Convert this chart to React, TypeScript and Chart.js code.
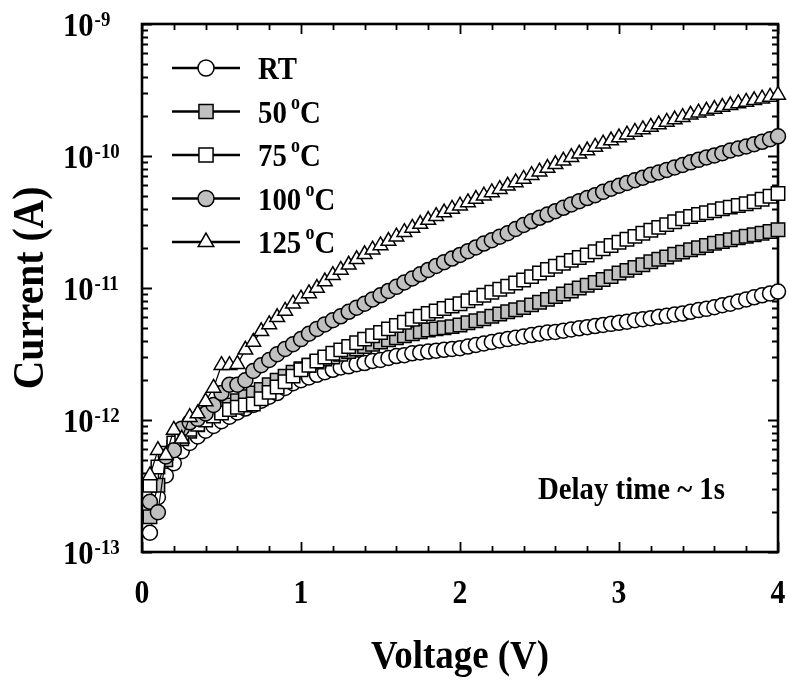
import React, { useEffect, useRef } from "react";
import { Chart, registerables } from "chart.js";

Chart.register(...registerables);

// ---------------- data ----------------
const voltage = [
  0.05, 0.1, 0.15, 0.2, 0.25, 0.3, 0.35, 0.4, 0.45, 0.5,
  0.55, 0.6, 0.65, 0.7, 0.75, 0.8, 0.85, 0.9, 0.95, 1.0,
  1.05, 1.1, 1.15, 1.2, 1.25, 1.3, 1.35, 1.4, 1.45, 1.5,
  1.55, 1.6, 1.65, 1.7, 1.75, 1.8, 1.85, 1.9, 1.95, 2.0,
  2.05, 2.1, 2.15, 2.2, 2.25, 2.3, 2.35, 2.4, 2.45, 2.5,
  2.55, 2.6, 2.65, 2.7, 2.75, 2.8, 2.85, 2.9, 2.95, 3.0,
  3.05, 3.1, 3.15, 3.2, 3.25, 3.3, 3.35, 3.4, 3.45, 3.5,
  3.55, 3.6, 3.65, 3.7, 3.75, 3.8, 3.85, 3.9, 3.95, 4.0,
];

const currentRT = [
  1.4e-13, 2.6e-13, 3.8e-13, 4.7e-13, 5.8e-13, 6.7e-13, 7.5e-13, 8.3e-13, 9.0e-13, 9.8e-13,
  1.06e-12, 1.14e-12, 1.22e-12, 1.3e-12, 1.4e-12, 1.5e-12, 1.6e-12, 1.75e-12, 1.9e-12, 2.0e-12,
  2.1e-12, 2.2e-12, 2.3e-12, 2.4e-12, 2.5e-12, 2.55e-12, 2.65e-12, 2.7e-12, 2.8e-12, 2.85e-12,
  2.95e-12, 3.05e-12, 3.1e-12, 3.2e-12, 3.25e-12, 3.3e-12, 3.35e-12, 3.4e-12, 3.45e-12, 3.5e-12,
  3.6e-12, 3.7e-12, 3.8e-12, 3.9e-12, 4.0e-12, 4.1e-12, 4.2e-12, 4.3e-12, 4.4e-12, 4.5e-12,
  4.6e-12, 4.65e-12, 4.75e-12, 4.85e-12, 4.95e-12, 5.05e-12, 5.15e-12, 5.25e-12, 5.35e-12, 5.45e-12,
  5.55e-12, 5.7e-12, 5.8e-12, 5.9e-12, 6.05e-12, 6.15e-12, 6.3e-12, 6.4e-12, 6.6e-12, 6.8e-12,
  6.95e-12, 7.15e-12, 7.4e-12, 7.6e-12, 7.9e-12, 8.2e-12, 8.5e-12, 8.8e-12, 9.1e-12, 9.4e-12,
];

const current50C = [
  1.85e-13, 3.2e-13, 5.0e-13, 6.2e-13, 7.2e-13, 8.2e-13, 9.2e-13, 1.02e-12, 1.12e-12, 1.22e-12,
  1.3e-12, 1.4e-12, 1.5e-12, 1.6e-12, 1.7e-12, 1.85e-12, 2.0e-12, 2.15e-12, 2.3e-12, 2.45e-12,
  2.6e-12, 2.75e-12, 2.9e-12, 3.0e-12, 3.15e-12, 3.3e-12, 3.45e-12, 3.6e-12, 3.75e-12, 3.9e-12,
  4.05e-12, 4.2e-12, 4.35e-12, 4.5e-12, 4.65e-12, 4.8e-12, 4.9e-12, 5.0e-12, 5.1e-12, 5.25e-12,
  5.45e-12, 5.65e-12, 5.85e-12, 6.1e-12, 6.35e-12, 6.6e-12, 6.85e-12, 7.1e-12, 7.45e-12, 7.8e-12,
  8.2e-12, 8.6e-12, 9.0e-12, 9.5e-12, 1.0e-11, 1.05e-11, 1.1e-11, 1.16e-11, 1.22e-11, 1.3e-11,
  1.36e-11, 1.43e-11, 1.5e-11, 1.58e-11, 1.65e-11, 1.72e-11, 1.8e-11, 1.87e-11, 1.95e-11, 2.02e-11,
  2.1e-11, 2.18e-11, 2.25e-11, 2.32e-11, 2.4e-11, 2.47e-11, 2.53e-11, 2.6e-11, 2.68e-11, 2.76e-11,
];

const current75C = [
  3.2e-13, 4.4e-13, 5.6e-13, 6.7e-13, 7.6e-13, 8.5e-13, 9.3e-13, 1.0e-12, 1.07e-12, 1.13e-12,
  1.2e-12, 1.25e-12, 1.3e-12, 1.32e-12, 1.45e-12, 1.62e-12, 1.78e-12, 1.95e-12, 2.15e-12, 2.4e-12,
  2.6e-12, 2.8e-12, 3.0e-12, 3.2e-12, 3.4e-12, 3.6e-12, 3.85e-12, 4.1e-12, 4.35e-12, 4.6e-12,
  4.9e-12, 5.2e-12, 5.5e-12, 5.8e-12, 6.1e-12, 6.4e-12, 6.7e-12, 7.0e-12, 7.3e-12, 7.6e-12,
  8.0e-12, 8.4e-12, 8.8e-12, 9.3e-12, 9.8e-12, 1.03e-11, 1.09e-11, 1.15e-11, 1.22e-11, 1.3e-11,
  1.38e-11, 1.46e-11, 1.54e-11, 1.62e-11, 1.7e-11, 1.78e-11, 1.88e-11, 1.98e-11, 2.1e-11, 2.22e-11,
  2.34e-11, 2.46e-11, 2.6e-11, 2.74e-11, 2.88e-11, 3.02e-11, 3.18e-11, 3.35e-11, 3.48e-11, 3.6e-11,
  3.72e-11, 3.85e-11, 3.98e-11, 4.1e-11, 4.22e-11, 4.35e-11, 4.5e-11, 4.7e-11, 4.95e-11, 5.2e-11,
];

const current100C = [
  2.4e-13, 2.0e-13, 5.3e-13, 5.9e-13, 8.6e-13, 9.6e-13, 1.02e-12, 1.12e-12, 1.3e-12, 1.6e-12,
  1.85e-12, 1.85e-12, 2.0e-12, 2.35e-12, 2.6e-12, 2.85e-12, 3.15e-12, 3.45e-12, 3.75e-12, 4.1e-12,
  4.5e-12, 4.9e-12, 5.3e-12, 5.7e-12, 6.1e-12, 6.6e-12, 7.1e-12, 7.6e-12, 8.2e-12, 8.8e-12,
  9.5e-12, 1.02e-11, 1.1e-11, 1.18e-11, 1.27e-11, 1.37e-11, 1.47e-11, 1.57e-11, 1.67e-11, 1.78e-11,
  1.9e-11, 2.03e-11, 2.17e-11, 2.3e-11, 2.45e-11, 2.6e-11, 2.8e-11, 3.0e-11, 3.2e-11, 3.4e-11,
  3.6e-11, 3.82e-11, 4.05e-11, 4.3e-11, 4.55e-11, 4.8e-11, 5.05e-11, 5.35e-11, 5.65e-11, 5.95e-11,
  6.25e-11, 6.55e-11, 6.85e-11, 7.2e-11, 7.5e-11, 7.85e-11, 8.2e-11, 8.55e-11, 8.95e-11, 9.35e-11,
  9.75e-11, 1.01e-10, 1.05e-10, 1.1e-10, 1.14e-10, 1.18e-10, 1.23e-10, 1.28e-10, 1.34e-10, 1.41e-10,
];

const current125C = [
  3.8e-13, 5.9e-13, 5.4e-13, 8.4e-13, 7.2e-13, 1.05e-12, 1.12e-12, 1.38e-12, 1.75e-12, 2.6e-12,
  2.6e-12, 2.65e-12, 3.4e-12, 3.9e-12, 4.7e-12, 5.3e-12, 6.0e-12, 6.7e-12, 7.6e-12, 8.3e-12,
  9.1e-12, 1.0e-11, 1.12e-11, 1.25e-11, 1.37e-11, 1.5e-11, 1.65e-11, 1.8e-11, 1.95e-11, 2.1e-11,
  2.27e-11, 2.45e-11, 2.65e-11, 2.85e-11, 3.05e-11, 3.27e-11, 3.5e-11, 3.73e-11, 3.97e-11, 4.2e-11,
  4.45e-11, 4.72e-11, 5.0e-11, 5.3e-11, 5.6e-11, 5.95e-11, 6.3e-11, 6.7e-11, 7.15e-11, 7.6e-11,
  8.1e-11, 8.65e-11, 9.2e-11, 9.8e-11, 1.04e-10, 1.1e-10, 1.17e-10, 1.24e-10, 1.31e-10, 1.38e-10,
  1.45e-10, 1.52e-10, 1.59e-10, 1.66e-10, 1.73e-10, 1.81e-10, 1.89e-10, 1.97e-10, 2.05e-10, 2.13e-10,
  2.2e-10, 2.27e-10, 2.35e-10, 2.42e-10, 2.5e-10, 2.57e-10, 2.64e-10, 2.72e-10, 2.8e-10, 2.9e-10,
];

const seriesNames = ["RT", "50", "75", "100", "125"];
const seriesHasDegree = [false, true, true, true, true];
const xTickValues = [0, 1, 2, 3, 4];
const yTickExponents = [-9, -10, -11, -12, -13];
const xTitle = "Voltage (V)";
const yTitle = "Current (A)";
const noteText = "Delay time ~ 1s";

// ---------------- styling ----------------
const FONT = '"Liberation Serif", "Times New Roman", serif';
const GREY = "#c0c0c0";
const HSCALE = 0.9;

type Marker = { style: "circle" | "rect" | "triangle"; fill: string; r: number };
const markers: Marker[] = [
  { style: "circle", fill: "#ffffff", r: 7.5 },
  { style: "rect", fill: GREY, r: 9.5 },
  { style: "rect", fill: "#ffffff", r: 9.5 },
  { style: "circle", fill: GREY, r: 7.5 },
  { style: "triangle", fill: "#ffffff", r: 8.5 },
];

function drawMarker(ctx: CanvasRenderingContext2D, m: Marker, x: number, y: number) {
  ctx.save();
  ctx.beginPath();
  if (m.style === "circle") {
    ctx.arc(x, y, m.r, 0, Math.PI * 2);
  } else if (m.style === "rect") {
    const s = m.r * Math.SQRT1_2;
    ctx.rect(x - s, y - s, 2 * s, 2 * s);
  } else {
    const r = m.r;
    ctx.moveTo(x, y - r);
    ctx.lineTo(x + r * Math.sin((2 * Math.PI) / 3), y - r * Math.cos((2 * Math.PI) / 3));
    ctx.lineTo(x + r * Math.sin((4 * Math.PI) / 3), y - r * Math.cos((4 * Math.PI) / 3));
    ctx.closePath();
  }
  ctx.fillStyle = m.fill;
  ctx.fill();
  ctx.lineWidth = 1.5;
  ctx.strokeStyle = "#000";
  ctx.stroke();
  ctx.restore();
}

function textW(ctx: CanvasRenderingContext2D, text: string, font: string) {
  ctx.font = font;
  return ctx.measureText(text).width * HSCALE;
}

function drawText(
  ctx: CanvasRenderingContext2D,
  text: string,
  x: number,
  y: number,
  font: string,
  align: "left" | "center" | "right" = "left"
) {
  ctx.save();
  ctx.font = font;
  ctx.fillStyle = "#000";
  ctx.textBaseline = "alphabetic";
  ctx.textAlign = align;
  ctx.translate(x, y);
  ctx.scale(HSCALE, 1);
  ctx.fillText(text, 0, 0);
  ctx.restore();
}

export default function App() {
  const ref = useRef<HTMLCanvasElement>(null);

  useEffect(() => {
    const canvas = ref.current;
    if (!canvas) return;

    const allSeries = [currentRT, current50C, current75C, current100C, current125C];

    const datasets = allSeries.map((arr, i) => ({
      label: seriesNames[i],
      data: voltage.map((v, k) => ({ x: v, y: arr[k] })),
      showLine: true,
      borderColor: "#000",
      borderWidth: 1.2,
      tension: 0,
      fill: false,
      pointStyle: markers[i].style,
      pointRadius: markers[i].r,
      pointHoverRadius: markers[i].r,
      pointBackgroundColor: markers[i].fill,
      pointBorderColor: "#000",
      pointBorderWidth: 1.5,
      clip: false as any,
      order: 5 - i,
    }));

    const framePlugin = {
      id: "frame",
      beforeDatasetsDraw(chart: any) {
        const ctx: CanvasRenderingContext2D = chart.ctx;
        const { left, right, top, bottom } = chart.chartArea;
        const xs = chart.scales.x;
        const ys = chart.scales.y;
        ctx.save();
        ctx.strokeStyle = "#000";
        // x ticks (major every 1, minor every 0.2), on bottom and top
        ctx.lineWidth = 1.8;
        for (let k = 0; k <= 20; k++) {
          const v = k * 0.2;
          const px = Math.round(xs.getPixelForValue(v)) + 0.5;
          const len = k % 5 === 0 ? 10 : 6;
          ctx.beginPath();
          ctx.moveTo(px, bottom);
          ctx.lineTo(px, bottom - len);
          ctx.moveTo(px, top);
          ctx.lineTo(px, top + len);
          ctx.stroke();
        }
        // y ticks (decades major, 2..9 minor), on left and right
        for (let e = -13; e <= -9; e++) {
          for (let m = 1; m <= 9; m++) {
            if (e === -9 && m > 1) break;
            const v = m * Math.pow(10, e);
            const py = Math.round(ys.getPixelForValue(v)) + 0.5;
            const len = m === 1 ? 10 : 6;
            ctx.beginPath();
            ctx.moveTo(left, py);
            ctx.lineTo(left + len, py);
            ctx.moveTo(right, py);
            ctx.lineTo(right - len, py);
            ctx.stroke();
          }
        }
        // frame
        ctx.lineWidth = 2.6;
        ctx.strokeRect(left, top, right - left, bottom - top);
        ctx.restore();
      },
      afterDraw(chart: any) {
        const ctx: CanvasRenderingContext2D = chart.ctx;
        const { left, right, top, bottom } = chart.chartArea;
        const xs = chart.scales.x;
        const ys = chart.scales.y;

        // x tick labels
        xTickValues.forEach((v) => {
          drawText(ctx, String(v), xs.getPixelForValue(v), bottom + 51, `bold 33px ${FONT}`, "center");
        });

        // y tick labels 10^e
        yTickExponents.forEach((e) => {
          const py = ys.getPixelForValue(Math.pow(10, e));
          const baseFont = `bold 34px ${FONT}`;
          const expFont = `bold 21px ${FONT}`;
          const x0 = 63;
          drawText(ctx, "10", x0, py + 12, baseFont, "left");
          const w = textW(ctx, "10", baseFont);
          drawText(ctx, String(e), x0 + w + 1, py + 2, expFont, "left");
        });

        // axis titles
        drawText(ctx, xTitle, (left + right) / 2, 668, `bold 41px ${FONT}`, "center");
        ctx.save();
        ctx.translate(43, (top + bottom) / 2);
        ctx.rotate(-Math.PI / 2);
        drawText(ctx, yTitle, 0, 0, `bold 44px ${FONT}`, "center");
        ctx.restore();

        // legend
        const legFont = `bold 32px ${FONT}`;
        const supFont = `bold 20px ${FONT}`;
        seriesNames.forEach((name, i) => {
          const cy = 68 + i * 43.5;
          ctx.save();
          ctx.strokeStyle = "#000";
          ctx.lineWidth = 2.5;
          ctx.beginPath();
          ctx.moveTo(172, cy);
          ctx.lineTo(240, cy);
          ctx.stroke();
          ctx.restore();
          drawMarker(ctx, { ...markers[i], r: markers[i].r + 0.5 }, 206, cy);
          const base = cy + 11;
          let x = 258;
          drawText(ctx, name, x, base, legFont, "left");
          x += textW(ctx, name, legFont);
          if (seriesHasDegree[i]) {
            x += textW(ctx, " ", legFont) * 0.6;
            drawText(ctx, "o", x, base - 14, supFont, "left");
            x += textW(ctx, "o", supFont);
            drawText(ctx, "C", x, base, legFont, "left");
          }
        });

        // note
        drawText(ctx, noteText, 538, 499, `bold 32px ${FONT}`, "left");
      },
    };

    const chart = new Chart(canvas, {
      type: "line",
      data: { datasets: datasets as any },
      options: {
        responsive: false,
        animation: false,
        parsing: false as any,
        layout: { padding: { left: 142, top: 24, right: 11, bottom: 129 } },
        scales: {
          x: { type: "linear", min: 0, max: 4, display: false },
          y: { type: "logarithmic", min: 1e-13, max: 1e-9, display: false },
        },
        plugins: {
          legend: { display: false },
          tooltip: { enabled: false },
        },
      },
      plugins: [framePlugin],
    });

    return () => chart.destroy();
  }, []);

  return (
    <div style={{ position: "fixed", left: 0, top: 0, width: 789, height: 681, background: "#fff" }}>
      <canvas ref={ref} width={789} height={681} style={{ display: "block", width: 789, height: 681 }} />
    </div>
  );
}
